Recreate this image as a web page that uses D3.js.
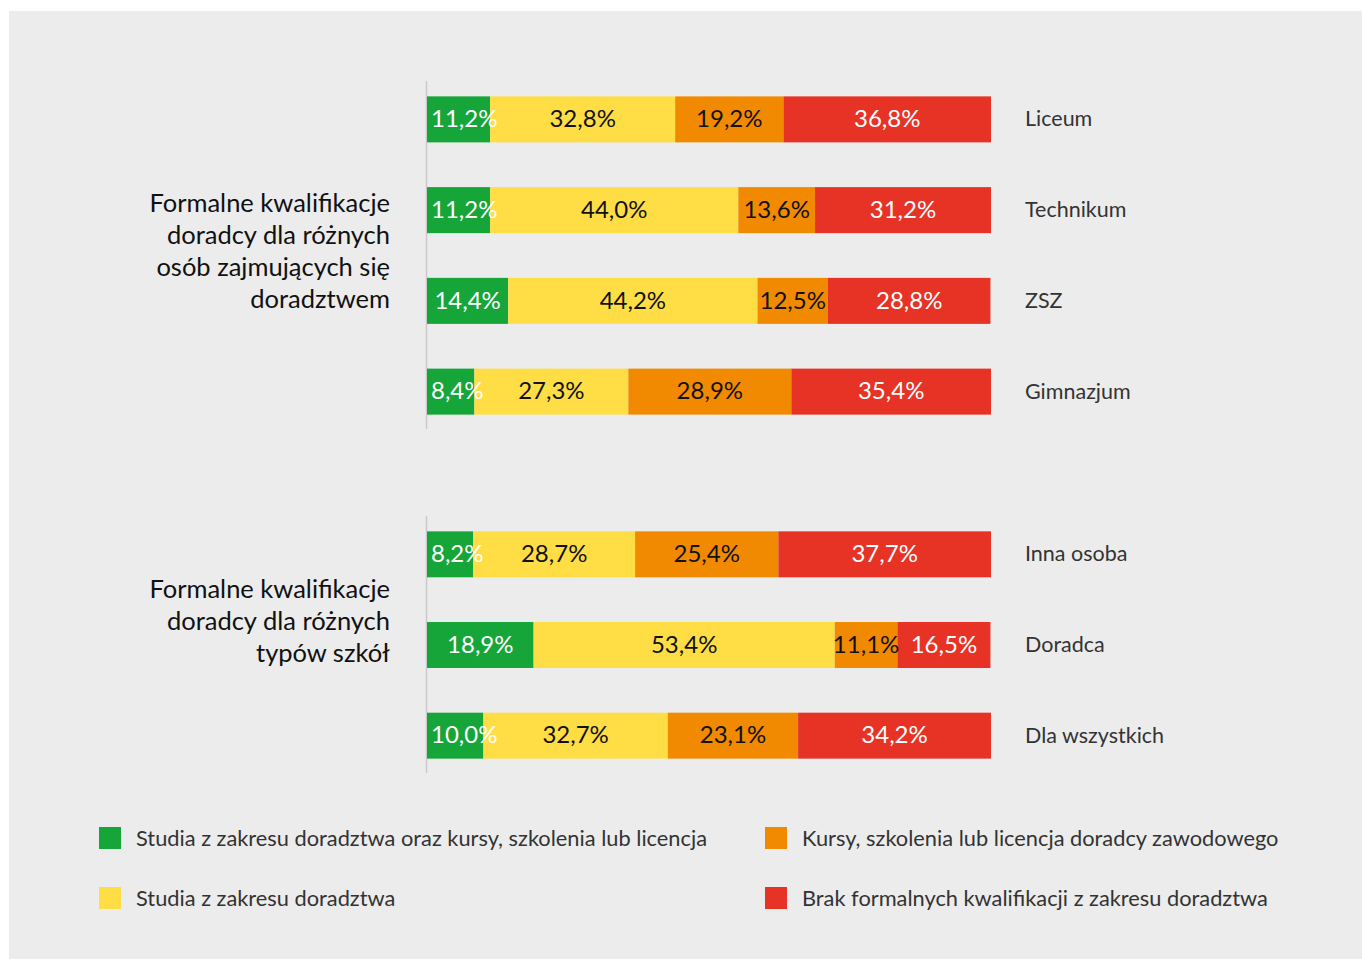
<!DOCTYPE html>
<html>
<head>
<meta charset="utf-8">
<script src="https://cdn.jsdelivr.net/npm/d3@7"></script>
<style>
  body { margin: 0; background: #fff; }
  svg { display: block; font-family: Lato, "Noto Sans", sans-serif; }
</style>
</head>
<body>
<script>
const width = 1362;
const height = 959;

const seriesNames = [
  'Studia z zakresu doradztwa oraz kursy, szkolenia lub licencja',
  'Studia z zakresu doradztwa',
  'Kursy, szkolenia lub licencja doradcy zawodowego',
  'Brak formalnych kwalifikacji z zakresu doradztwa'
];
const colors = ['#16a538', '#ffde45', '#f18a00', '#e63325'];
const textColors = ['#fff', '#111', '#111', '#fff'];

const schoolTypes = ['Liceum', 'Technikum', 'ZSZ', 'Gimnazjum'];
const schoolValues = [
  [11.2, 32.8, 19.2, 36.8],
  [11.2, 44.0, 13.6, 31.2],
  [14.4, 44.2, 12.5, 28.8],
  [8.4, 27.3, 28.9, 35.4]
];
const personTypes = ['Inna osoba', 'Doradca', 'Dla wszystkich'];
const personValues = [
  [8.2, 28.7, 25.4, 37.7],
  [18.9, 53.4, 11.1, 16.5],
  [10.0, 32.7, 23.1, 34.2]
];

const groupTitles = [
  ['Formalne kwalifikacje', 'doradcy dla różnych', 'osób zajmujących się', 'doradztwem'],
  ['Formalne kwalifikacje', 'doradcy dla różnych', 'typów szkół']
];

const svg = d3.select('body').append('svg').attr('width', width).attr('height', height);

svg.append('rect')
  .attr('x', 9).attr('y', 11)
  .attr('width', width - 9).attr('height', height - 11)
  .attr('fill', '#ececec');

const x = d3.scaleLinear().domain([0, 100]).range([427, 991]);

const fmt = v => d3.format('.1f')(v).replace('.', ',') + '%';

function drawGroup(cats, values, range, title, titleMid) {
  const y = d3.scaleBand().domain(cats).range(range).paddingInner(0.493).paddingOuter(0.2465);

  const g = svg.append('g');

  g.append('line')
    .attr('x1', x(0) - 0.5).attr('x2', x(0) - 0.5)
    .attr('y1', range[0] + 7).attr('y2', range[1] - 8)
    .attr('stroke', '#c9c9c9').attr('stroke-width', 1.5);

  const rows = cats.map((c, i) => {
    let acc = 0;
    return values[i].map((v, k) => {
      const seg = { cat: c, k, v, x0: acc, x1: acc + v };
      acc += v;
      return seg;
    });
  }).flat();

  g.selectAll('rect.seg')
    .data(rows)
    .join('rect')
    .attr('class', 'seg')
    .attr('x', d => x(d.x0))
    .attr('width', d => x(d.x1) - x(d.x0))
    .attr('y', d => y(d.cat))
    .attr('height', y.bandwidth())
    .attr('fill', d => colors[d.k]);

  g.selectAll('text.val')
    .data(rows)
    .join('text')
    .attr('class', 'val')
    .attr('y', d => y(d.cat) + y.bandwidth() / 2)
    .attr('dy', '0.32em')
    .attr('text-anchor', 'middle')
    .attr('font-size', 24)
    .attr('fill', d => textColors[d.k])
    .text(d => fmt(d.v))
    .attr('x', function (d) {
      const c = (x(d.x0) + x(d.x1)) / 2;
      // keep first label inside the left edge of the bar
      if (d.k === 0) {
        const half = this.getComputedTextLength() / 2;
        return Math.max(c, x(0) + half + 4);
      }
      return c;
    });

  const axis = d3.axisRight(y).tickSize(0).tickPadding(34);
  g.append('g')
    .attr('transform', `translate(${x(100)},0)`)
    .call(axis)
    .call(a => a.select('.domain').remove())
    .call(a => a.selectAll('text')
      .attr('font-size', 21.5)
      .attr('fill', '#333')
      .attr('font-family', 'Lato, "Noto Sans", sans-serif'));

  const lh = 32;
  g.append('text')
    .attr('text-anchor', 'end')
    .attr('font-size', 25.5)
    .attr('fill', '#111')
    .selectAll('tspan')
    .data(title)
    .join('tspan')
    .attr('x', 390)
    .attr('y', (d, i) => titleMid + (i - (title.length - 1) / 2) * lh)
    .attr('dy', '0.36em')
    .text(d => d);
}

drawGroup(schoolTypes, schoolValues, [74, 437], groupTitles[0], 251);
drawGroup(personTypes, personValues, [509, 781], groupTitles[1], 621);

// legend
const legendPos = [[99, 838], [99, 898], [765, 838], [765, 898]];
const legend = svg.append('g')
  .selectAll('g')
  .data(seriesNames)
  .join('g')
  .attr('transform', (d, i) => `translate(${legendPos[i][0]},${legendPos[i][1]})`);

legend.append('rect')
  .attr('x', 0).attr('y', -11)
  .attr('width', 22).attr('height', 22)
  .attr('fill', (d, i) => colors[i]);

legend.append('text')
  .attr('x', 37)
  .attr('dy', '0.36em')
  .attr('font-size', 21.8)
  .attr('fill', '#333')
  .text(d => d);
</script>
</body>
</html>
